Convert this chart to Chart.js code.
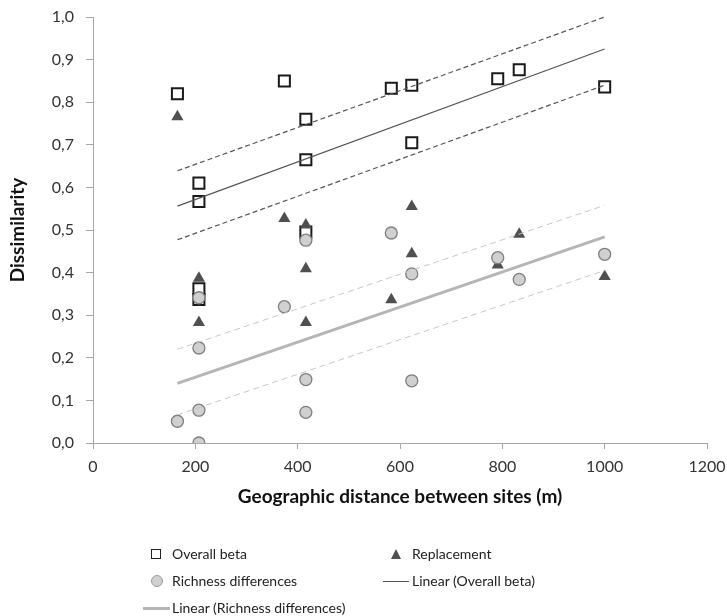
<!DOCTYPE html>
<html>
<head>
<meta charset="utf-8">
<script src="https://cdn.jsdelivr.net/npm/chart.js@4.4.1/dist/chart.umd.min.js"></script>
<style>
    body { margin: 0; background: #fff; }
    #wrap { position: relative; width: 727px; height: 616px; }
    #legend { position: absolute; left: 0; top: 0; font-family: Lato, sans-serif; font-size: 14px; color: #222; }
    .item { position: absolute; height: 18px; line-height: 18px; white-space: nowrap; }
    .mk { position: absolute; }
</style>
</head>
<body>
<div id="wrap">
    <canvas id="myChart" width="727" height="616"></canvas>
    <div id="legend"></div>
</div>
<script>
// distances (m) and dissimilarity values
const distOverall = [165, 207, 207, 207, 207, 374, 416, 416, 416, 583, 623, 623, 791, 833, 1000];
const overallBeta = [0.82, 0.61, 0.567, 0.362, 0.337, 0.85, 0.76, 0.665, 0.495, 0.833, 0.84, 0.705, 0.855, 0.876, 0.836];

const distReplacement = [165, 207, 207, 374, 416, 416, 416, 583, 623, 623, 791, 833, 1000];
const replacement = [0.766, 0.387, 0.283, 0.527, 0.512, 0.409, 0.283, 0.336, 0.555, 0.444, 0.418, 0.49, 0.391];

const distRichness = [165, 207, 207, 207, 207, 374, 416, 416, 416, 583, 623, 623, 791, 833, 1000];
const richness = [0.051, 0.341, 0.223, 0.077, 0.0, 0.32, 0.476, 0.149, 0.072, 0.493, 0.397, 0.146, 0.435, 0.384, 0.443];

// trend lines (fit and dashed bands), endpoints
const trendX = [165, 1000];
const overallFit = [0.556, 0.925];
const overallUpper = [0.639, 1.0];
const overallLower = [0.477, 0.84];
const richFit = [0.14, 0.484];
const richUpper = [0.22, 0.558];
const richLower = [0.066, 0.405];

const xTicks = [0, 200, 400, 600, 800, 1000, 1200];

function pts(xs, ys) {
    return xs.map((x, i) => ({ x: x, y: ys[i] }));
}

function lineSet(ys, color, width, dash, order) {
    return {
        data: pts(trendX, ys),
        showLine: true,
        borderColor: color,
        borderWidth: width,
        borderDash: dash,
        pointRadius: 0,
        fill: false,
        clip: false,
        order: order
    };
}

let datasets = [
    lineSet(overallFit, '#555555', 1.2, [], 1),
    lineSet(overallUpper, '#555555', 1.2, [5, 3], 1),
    lineSet(overallLower, '#555555', 1.2, [5, 3], 1),
    lineSet(richFit, '#b5b5b5', 3, [], 1),
    lineSet(richUpper, '#c6c6c6', 1, [6, 4], 1),
    lineSet(richLower, '#c6c6c6', 1, [6, 4], 1),
    {
        label: 'Richness differences',
        data: pts(distRichness, richness),
        pointStyle: 'circle',
        pointRadius: 6,
        backgroundColor: '#d0d0d0',
        borderColor: '#7f7f7f',
        borderWidth: 1.3,
        order: 2
    },
    {
        label: 'Replacement',
        data: pts(distReplacement, replacement),
        pointStyle: 'triangle',
        pointRadius: 7,
        backgroundColor: '#505050',
        borderColor: '#505050',
        borderWidth: 0,
        order: 3
    },
    {
        label: 'Overall beta',
        data: pts(distOverall, overallBeta),
        pointStyle: 'rect',
        pointRadius: 7.8,
        backgroundColor: '#ffffff',
        borderColor: '#1a1a1a',
        borderWidth: 2,
        order: 4
    }
];

let ctx = document.getElementById('myChart').getContext('2d');
let myChart = new Chart(ctx, {
    type: 'scatter',
    data: { datasets: datasets },
    options: {
        responsive: false,
        animation: false,
        layout: {
            padding: { left: 0, right: 20, top: 17, bottom: 103 }
        },
        plugins: {
            legend: { display: false },
            tooltip: { enabled: false }
        },
        scales: {
            x: {
                type: 'linear',
                min: 0,
                max: 1200,
                afterBuildTicks: scale => { scale.ticks = xTicks.map(v => ({ value: v })); },
                // fixed axis box so the plot area sits where it does in the figure
                afterFit: scale => {
                    scale.height = 70;
                    scale.paddingLeft = 0;
                    scale.paddingRight = 0;
                },
                border: { color: '#a6a6a6', width: 1 },
                grid: { drawOnChartArea: false, color: '#a6a6a6', tickLength: 6 },
                ticks: {
                    color: '#333',
                    padding: 8,
                    maxRotation: 0,
                    font: { family: 'Lato', size: 16 },
                    callback: v => String(v)
                },
                title: {
                    display: true,
                    text: 'Geographic distance between sites (m)',
                    color: '#111',
                    font: { family: 'Lato', size: 19, weight: 'bold' },
                    padding: { top: 0, bottom: 5 }
                }
            },
            y: {
                min: 0,
                max: 1,
                afterFit: scale => {
                    scale.width = 93;
                    scale.paddingTop = 0;
                    scale.paddingBottom = 0;
                },
                border: { color: '#a6a6a6', width: 1 },
                grid: { drawOnChartArea: false, color: '#a6a6a6', tickLength: 7 },
                ticks: {
                    stepSize: 0.1,
                    color: '#333',
                    padding: 12,
                    font: { family: 'Lato', size: 16 },
                    callback: v => v.toFixed(1).replace('.', ',')
                },
                title: {
                    display: true,
                    text: 'Dissimilarity',
                    color: '#111',
                    font: { family: 'Lato', size: 19, weight: 'bold' },
                    padding: { top: 6, bottom: 0 }
                }
            }
        }
    }
});

// Legend, laid out as in the figure
const legendItems = [
    { text: 'Overall beta', x: 172, y: 554, mk: '<div class="mk" style="left:-21px;top:4px;width:8px;height:8px;border:1.5px solid #222;background:#fff"></div>' },
    { text: 'Replacement', x: 412, y: 554, mk: '<div class="mk" style="left:-21px;top:4px;width:0;height:0;border-left:5.5px solid transparent;border-right:5.5px solid transparent;border-bottom:10px solid #505050"></div>' },
    { text: 'Richness differences', x: 172, y: 581, mk: '<div class="mk" style="left:-21px;top:3px;width:10px;height:10px;border-radius:50%;border:1px solid #999;background:#d0d0d0"></div>' },
    { text: 'Linear (Overall beta)', x: 412, y: 581, mk: '<div class="mk" style="left:-29px;top:9px;width:26px;height:1px;background:#555"></div>' },
    { text: 'Linear (Richness differences)', x: 172, y: 608, mk: '<div class="mk" style="left:-29px;top:8px;width:27px;height:3px;background:#b5b5b5"></div>' }
];
let html = '';
legendItems.forEach(item => {
    html += '<div class="item" style="left:' + item.x + 'px;top:' + (item.y - 9) + 'px">' + item.mk + item.text + '</div>';
});
document.getElementById('legend').innerHTML = html;
</script>
</body>
</html>
